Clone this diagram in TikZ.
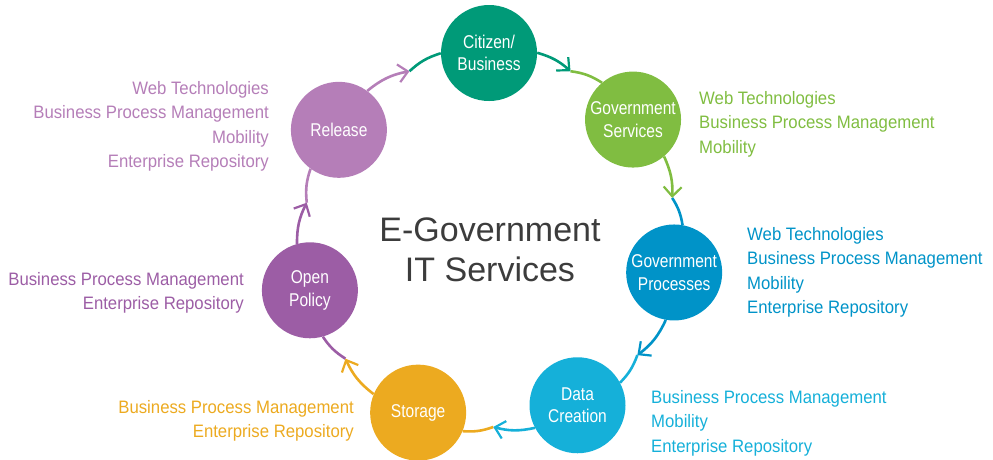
\documentclass[tikz,border=0pt]{standalone}
\usepackage{fontspec}
\setmainfont{Liberation Sans}[FakeStretch=0.93]
\newfontfamily\circfont{Liberation Sans}[FakeStretch=0.84]
\newfontfamily\titlefont{Liberation Sans}
\usetikzlibrary{arrows.meta}
\definecolor{cteal}{HTML}{009A78}
\definecolor{cgreen}{HTML}{80BD41}
\definecolor{cblue}{HTML}{0093C8}
\definecolor{clblue}{HTML}{15B0D9}
\definecolor{corange}{HTML}{ECAA20}
\definecolor{cpurple}{HTML}{9C5DA5}
\definecolor{clpurple}{HTML}{B57EB8}
\definecolor{ctitle}{HTML}{3C3C3C}
\begin{document}
\begin{tikzpicture}[x=1pt,y=1pt,
  stage/.style={circle, minimum size=96pt, inner sep=0pt, text=white,
    font=\circfont\fontsize{18.5}{22.5}\selectfont, align=center},
  lab/.style={inner sep=0pt, font=\fontsize{18}{24.5}\selectfont},
  conn/.style={line width=2.6pt},
  tipped/.style={-{Straight Barb[length=9.5pt,width=18pt,line width=2.2pt]}}
]
\useasboundingbox (0,0) rectangle (993,459);

% stages on a ring of radius 187 round (490,219)
\node[stage, fill=cteal]    (C)  at ([shift={(490,219)}]90.3:187pt)  {Citizen/\\Business};
\node[stage, fill=cgreen]   (GS) at ([shift={(490,219)}]40.1:187pt)  {Government\\Services};
\node[stage, fill=cblue]    (GP) at ([shift={(490,219)}]-10:187pt)   {Government\\Processes};
\node[stage, fill=clblue]   (DC) at ([shift={(490,219)}]-62.1:187pt) {Data\\Creation};
\node[stage, fill=corange]  (S)  at ([shift={(490,219)}]-112.6:187pt) {Storage};
\node[stage, fill=cpurple]  (OP) at ([shift={(490,219)}]-164.4:187pt) {Open\\Policy};
\node[stage, fill=clpurple] (R)  at ([shift={(490,219)}]143.9:187pt) {Release};

% arrow tip points
\coordinate (tRC) at ([shift={(490,219)}]115.5:187pt);
\coordinate (tCG) at ([shift={(490,219)}]64.5:187pt);
\coordinate (tGP) at ([shift={(490,219)}]13:187pt);
\coordinate (tPD) at ([shift={(490,219)}]-38:187pt);
\coordinate (tDS) at ([shift={(490,219)}]-89:187pt);
\coordinate (tSO) at ([shift={(490,219)}]-140.6:187pt);
\coordinate (tOR) at ([shift={(490,219)}]168.5:187pt);

% second halves (target colour)
\draw[conn, cteal]    (tRC) to[bend left=12.6] (C);
\draw[conn, cgreen]   (tCG) to[bend left=12.2] (GS);
\draw[conn, cblue]    (tGP) to[bend left=11.5] (GP);
\draw[conn, clblue]   (tPD) to[bend left=12]   (DC);
\draw[conn, corange]  (tDS) to[bend left=11.8] (S);
\draw[conn, cpurple]  (tSO) to[bend left=11.9] (OP);
\draw[conn, clpurple] (tOR) to[bend left=12.3] (R);

% first halves with arrow heads (source colour)
\draw[conn, clpurple, tipped] (R)  to[bend left=14.2] (tRC);
\draw[conn, cteal, tipped]    (C)  to[bend left=12.9] (tCG);
\draw[conn, cgreen, tipped]   (GS) to[bend left=13.5] (tGP);
\draw[conn, cblue, tipped]    (GP) to[bend left=14]   (tPD);
\draw[conn, clblue, tipped]   (DC) to[bend left=13.5] (tDS);
\draw[conn, corange, tipped]  (S)  to[bend left=14]   (tSO);
\draw[conn, cpurple, tipped]  (OP) to[bend left=13.5] (tOR);

% labels
\node[lab, text=clpurple, anchor=north east, align=right] (lR) at (269,378)
  {Web Technologies\\Business Process Management\\Mobility\\Enterprise Repository};
\node[lab, text=cgreen, anchor=north west, align=left] (lGS) at (699,368)
  {Web Technologies\\Business Process Management\\Mobility};
\node[lab, text=cblue, anchor=north west, align=left] (lGP) at (747,232)
  {Web Technologies\\Business Process Management\\Mobility\\Enterprise Repository};
\node[lab, text=clblue, anchor=north west, align=left] (lDC) at (651,69)
  {Business Process Management\\Mobility\\Enterprise Repository};
\node[lab, text=cpurple, anchor=north east, align=right] (lOP) at (244,187)
  {Business Process Management\\Enterprise Repository};
\node[lab, text=corange, anchor=north east, align=right] (lS) at (354,59)
  {Business Process Management\\Enterprise Repository};

% title
\node[inner sep=0pt, anchor=north, align=center, text=ctitle,
  font=\titlefont\fontsize{34}{40}\selectfont] (title) at (490,241.8)
  {E-Government\\IT Services};
\end{tikzpicture}
\end{document}
